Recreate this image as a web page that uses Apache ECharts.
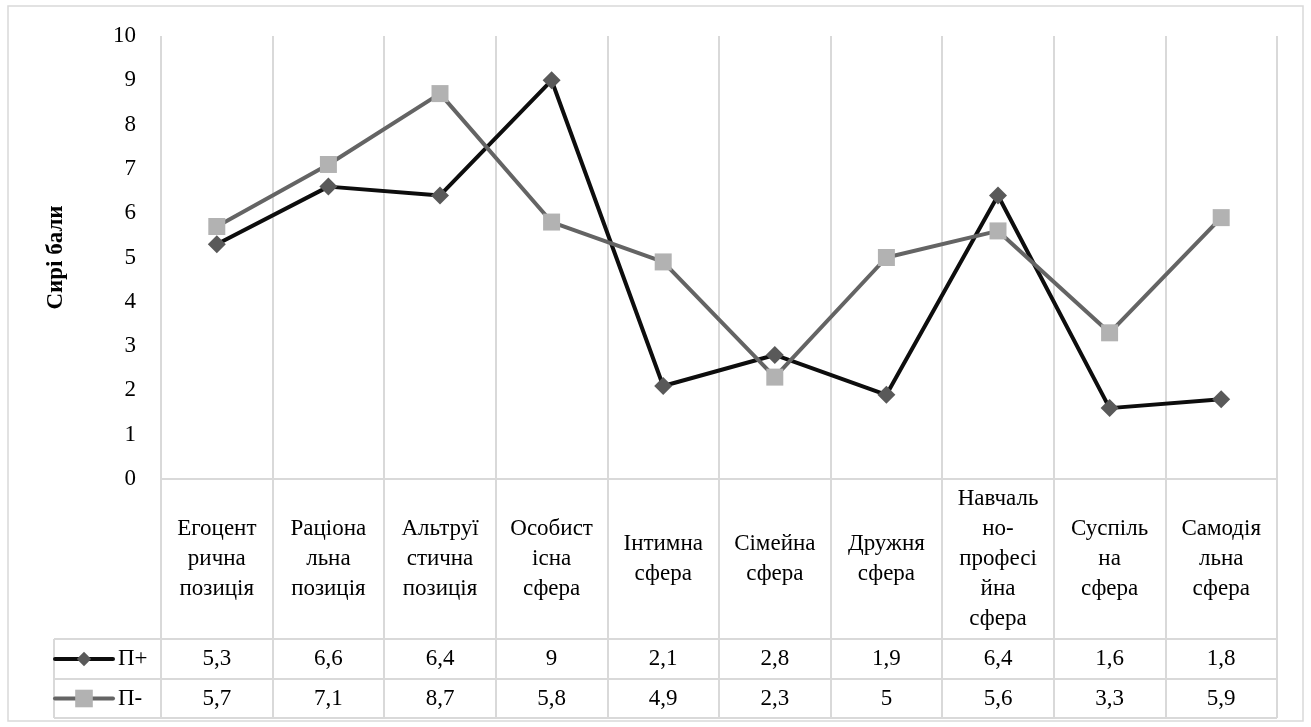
<!DOCTYPE html>
<html>
<head>
<meta charset="utf-8">
<script src="https://cdn.jsdelivr.net/npm/echarts@6/dist/echarts.min.js"></script>
<style>
html,body{margin:0;padding:0;background:#fff;}
#main{width:1311px;height:727px;}
</style>
</head>
<body>
<div id="main"></div>
<script>
// ---- data ----
const categories = [
  'Егоцентрична позиція',
  'Раціональна позиція',
  'Альтруїстична позиція',
  'Особистісна сфера',
  'Інтимна сфера',
  'Сімейна сфера',
  'Дружня сфера',
  'Навчально-професійна сфера',
  'Суспільна сфера',
  'Самодіяльна сфера'
];
const seriesNames = ['П+', 'П-'];
const pPlus  = [5.3, 6.6, 6.4, 9, 2.1, 2.8, 1.9, 6.4, 1.6, 1.8];
const pMinus = [5.7, 7.1, 8.7, 5.8, 4.9, 2.3, 5, 5.6, 3.3, 5.9];
const yTitle = 'Сирі бали';
const yMin = 0, yMax = 10, yStep = 1;

// ---- layout / style ----
const FONT = 'serif';
const FS = 23;
const GRID_COLOR = '#d9d9d9';
const L = 161, R = 1277, TOP = 36, PLOT_BOTTOM = 479;
const ROW1 = 639, ROW2 = 679, TABLE_BOTTOM = 718, LEG_LEFT = 54;
const W = 1311, H = 727;

function wrapLabel(name) {
  // emulate Excel's cell wrap (about 7 characters per line)
  const tokens = [];
  name.split(' ').forEach(w => {
    w.split(/(?<=-)/).forEach(p => tokens.push(p));
  });
  const lines = [];
  tokens.forEach(t => {
    for (let i = 0; i < t.length; i += 7) lines.push(t.slice(i, i + 7));
  });
  return lines.join('\n');
}
const fmt = v => String(v).replace('.', ',');

const chart = echarts.init(document.getElementById('main'), null, {renderer: 'canvas'});

const lineCol = GRID_COLOR;
const labelBase = {fontFamily: FONT, fontSize: FS, color: '#000'};
const option = {
  animation: false,
  backgroundColor: '#ffffff',
  textStyle: {fontFamily: FONT, color: '#000'},
  grid: [
    {left: L, right: W - R, top: TOP, bottom: H - PLOT_BOTTOM, containLabel: false},
    {left: L, right: W - R, top: PLOT_BOTTOM, bottom: H - TABLE_BOTTOM, containLabel: false}
  ],
  legend: [
    {
      data: [seriesNames[0]], orient: 'vertical', left: 53, top: 646, padding: 0,
      itemWidth: 58, itemHeight: 18, itemGap: 0,
      lineStyle: {width: 4},
      textStyle: Object.assign({lineHeight: 26}, labelBase)
    },
    {
      data: [seriesNames[1]], orient: 'vertical', left: 53, top: 685.5, padding: 0,
      itemWidth: 58, itemHeight: 22, itemGap: 0,
      lineStyle: {width: 4},
      textStyle: Object.assign({lineHeight: 26}, labelBase)
    }
  ],
  xAxis: [
    {
      type: 'category', gridIndex: 0, data: categories, boundaryGap: true, position: 'bottom',
      axisLine: {show: true, lineStyle: {color: lineCol, width: 2}},
      axisTick: {show: false},
      splitLine: {show: true, interval: 0, lineStyle: {color: lineCol, width: 2}},
      axisLabel: Object.assign({
        interval: 0, margin: 80, verticalAlign: 'middle', lineHeight: 30,
        formatter: v => wrapLabel(v)
      }, labelBase)
    },
    {
      type: 'category', gridIndex: 0, data: categories, boundaryGap: true, position: 'bottom', offset: ROW1 - PLOT_BOTTOM,
      axisLine: {show: false}, axisTick: {show: false}, splitLine: {show: false},
      axisLabel: Object.assign({
        interval: 0, margin: (ROW2 - ROW1) / 2, verticalAlign: 'middle',
        formatter: (v, i) => fmt(pPlus[i])
      }, labelBase)
    },
    {
      type: 'category', gridIndex: 0, data: categories, boundaryGap: true, position: 'bottom', offset: ROW2 - PLOT_BOTTOM,
      axisLine: {show: false}, axisTick: {show: false}, splitLine: {show: false},
      axisLabel: Object.assign({
        interval: 0, margin: (TABLE_BOTTOM - ROW2) / 2, verticalAlign: 'middle',
        formatter: (v, i) => fmt(pMinus[i])
      }, labelBase)
    },
    {
      type: 'category', gridIndex: 1, data: categories, boundaryGap: true,
      axisLine: {show: false}, axisTick: {show: false}, axisLabel: {show: false},
      splitLine: {show: true, interval: 0, lineStyle: {color: lineCol, width: 2}}
    }
  ],
  yAxis: [
    {
      type: 'value', gridIndex: 0, min: yMin, max: yMax, interval: yStep,
      axisLine: {show: false}, axisTick: {show: false}, splitLine: {show: false},
      axisLabel: Object.assign({margin: 25}, labelBase),
      name: yTitle, nameLocation: 'middle', nameRotate: 90, nameGap: 93,
      nameTextStyle: {fontFamily: FONT, fontSize: FS, fontWeight: 'bold', color: '#000'}
    },
    {
      type: 'value', gridIndex: 1, min: 0, max: 1, show: false
    }
  ],
  graphic: [
    {type: 'rect', shape: {x: 8, y: 6, width: 1295, height: 715}, style: {fill: 'none', stroke: lineCol, lineWidth: 1.5}, silent: true},
    {type: 'line', shape: {x1: LEG_LEFT, y1: ROW1, x2: R, y2: ROW1}, style: {stroke: lineCol, lineWidth: 2}, silent: true},
    {type: 'line', shape: {x1: LEG_LEFT, y1: ROW2, x2: R, y2: ROW2}, style: {stroke: lineCol, lineWidth: 2}, silent: true},
    {type: 'line', shape: {x1: LEG_LEFT, y1: TABLE_BOTTOM, x2: R, y2: TABLE_BOTTOM}, style: {stroke: lineCol, lineWidth: 2}, silent: true},
    {type: 'line', shape: {x1: LEG_LEFT, y1: ROW1, x2: LEG_LEFT, y2: TABLE_BOTTOM}, style: {stroke: lineCol, lineWidth: 2}, silent: true}
  ],
  series: [
    {
      name: seriesNames[0], type: 'line', xAxisIndex: 0, yAxisIndex: 0, data: pPlus,
      symbol: 'diamond', symbolSize: 18,
      lineStyle: {color: '#0d0d0d', width: 4, join: 'round', cap: 'round'},
      itemStyle: {color: '#595959', borderWidth: 0},
      z: 3
    },
    {
      name: seriesNames[1], type: 'line', xAxisIndex: 0, yAxisIndex: 0, data: pMinus,
      symbol: 'rect', symbolSize: 17,
      lineStyle: {color: '#646464', width: 4, join: 'round', cap: 'round'},
      itemStyle: {color: '#b2b2b2', borderWidth: 0},
      z: 4
    }
  ]
};
chart.setOption(option);
</script>
</body>
</html>
